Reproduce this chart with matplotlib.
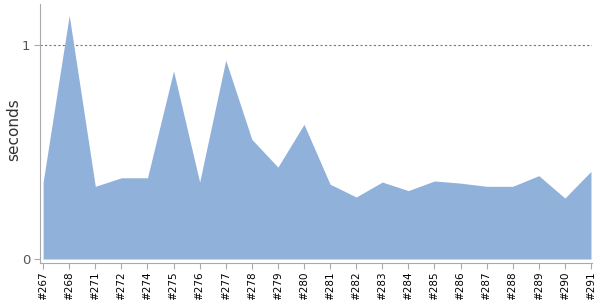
import matplotlib
matplotlib.use("Agg")
import matplotlib.pyplot as plt
import numpy as np

# build ids and durations (seconds)
builds = ["#267", "#268", "#271", "#272", "#274", "#275", "#276", "#277", "#278", "#279", "#280",
          "#281", "#282", "#283", "#284", "#285", "#286", "#287", "#288", "#289", "#290", "#291"]
seconds = [0.36, 1.14, 0.34, 0.38, 0.38, 0.88, 0.36, 0.93, 0.56, 0.43, 0.63,
           0.35, 0.29, 0.36, 0.32, 0.365, 0.355, 0.34, 0.34, 0.39, 0.285, 0.41]
yticks = [0, 1]

fig = plt.figure(figsize=(6, 3), dpi=100)
ax = fig.add_axes([40 / 600, 37 / 300, 552 / 600, 259 / 300])

x = np.arange(len(builds))
ax.fill_between(x, 0, seconds, color="#8fb1da", lw=0)
ax.axhline(1, color="#777777", lw=0.8, ls=(0, (2, 2)), zorder=0)

ax.set_xlim(-0.12, len(builds) - 1 + 0.04)
ax.set_ylim(-0.0187, 1.193)
ax.set_xticks(x)
ax.set_xticklabels(builds, rotation=90, fontsize=7.5, color="black")
ax.set_yticks(yticks)
ax.set_yticklabels([str(t) for t in yticks], fontsize=9.5, color="#555555")
ax.tick_params(axis="both", color="#aaaaaa", length=4, width=0.8)
ax.tick_params(axis="x", pad=2)
ax.tick_params(axis="y", pad=3)

for side in ["top", "right"]:
    ax.spines[side].set_visible(False)
for side in ["left", "bottom"]:
    ax.spines[side].set_color("#aaaaaa")
    ax.spines[side].set_linewidth(0.8)

# y label sits close to the figure edge
fig.text(14 / 600, 1 - 130 / 300, "seconds", rotation=90, fontsize=11, color="#333333",
         ha="center", va="center")

fig.savefig("out.png", dpi=100)
plt.close()
